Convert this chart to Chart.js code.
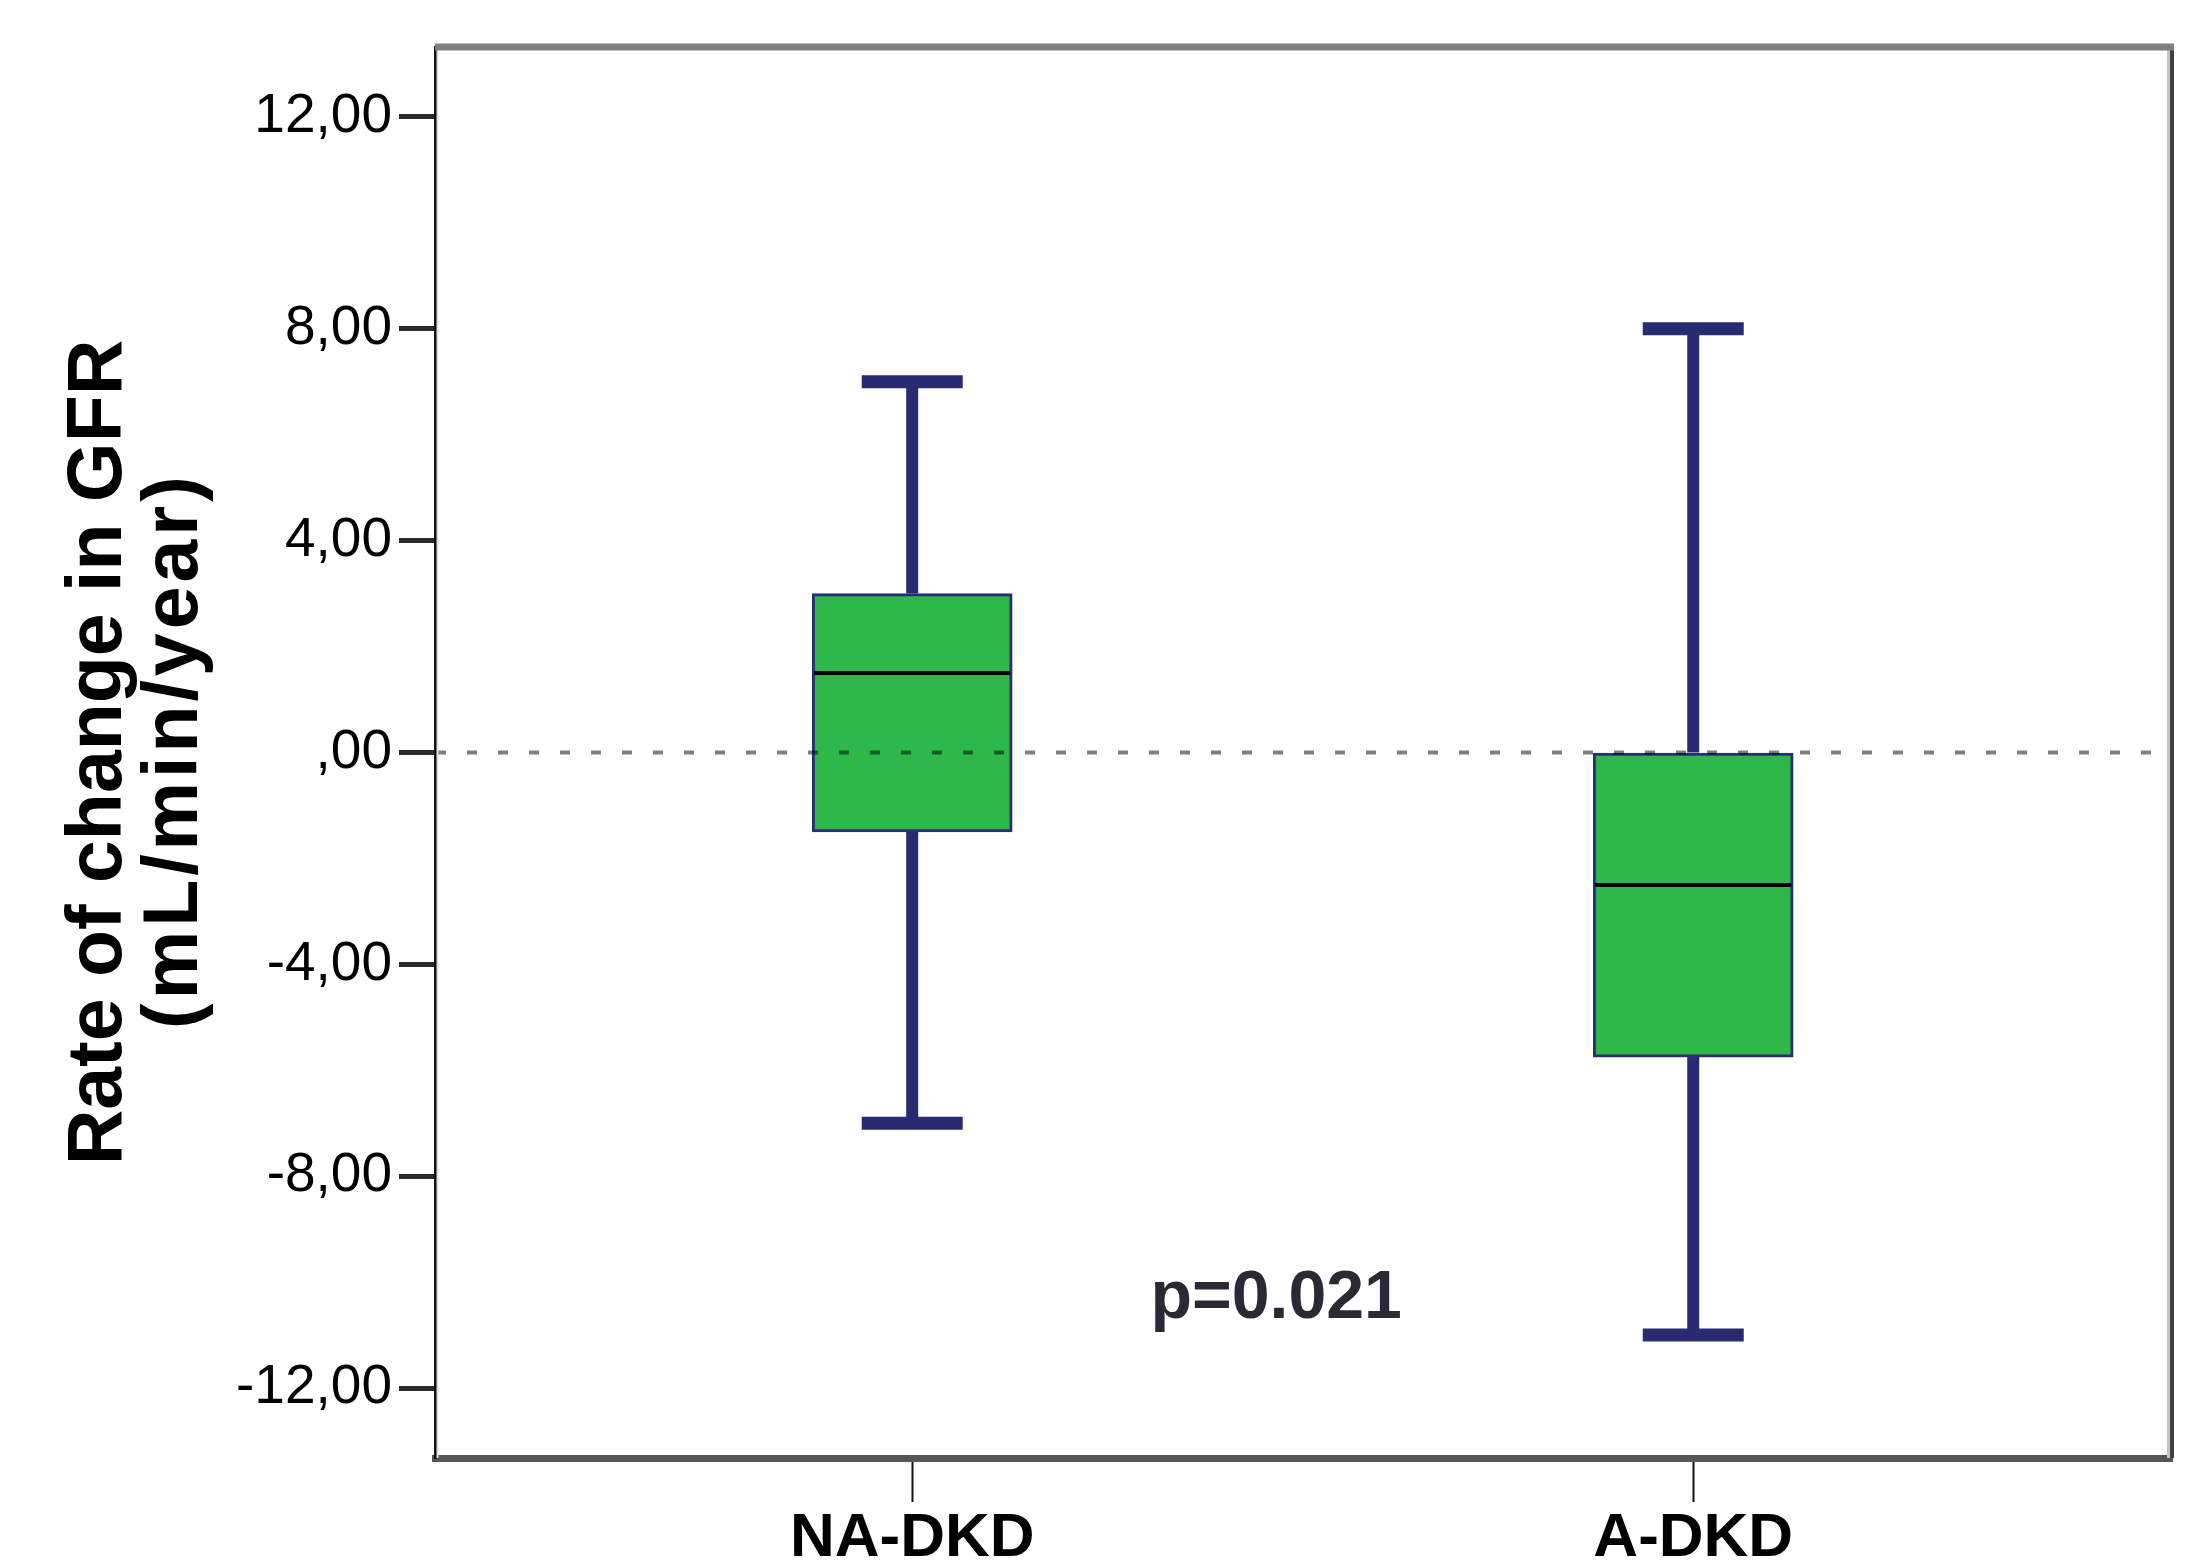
<!DOCTYPE html>
<html><head><meta charset="utf-8">
<script src="https://cdn.jsdelivr.net/npm/chart.js@4.4.1/dist/chart.umd.min.js"></script>
<style>html,body{margin:0;padding:0;background:#fff;overflow:hidden}#wrap{width:2191px;height:1562px;position:relative}canvas{display:block}</style>
</head><body><div id="wrap"><canvas id="c" width="2191" height="1562"></canvas></div>
<script>
// ---- data ----
const categories = ['NA-DKD', 'A-DKD'];
const whiskerMin = [-7, -11];
const q1 = [-1.5, -5.75];
const median = [1.5, -2.5];
const q3 = [3, 0];
const whiskerMax = [7, 8];
const yTickValues = [-12, -8, -4, 0, 4, 8, 12];
const yTickLabels = ['-12,00', '-8,00', '-4,00', ',00', '4,00', '8,00', '12,00'];
const yTitle = ['Rate of change in GFR', '(mL/min/year)'];
const pText = 'p=0.021';
const pPos = { x: 1.466, y: -10.68 };
const referenceValue = 0;

// ---- styles ----
const FONT = '"Liberation Sans", Arial, Helvetica, sans-serif';
const WHISKER = '#282a72';
const BOX_FILL = '#2eb84a';
const BOX_EDGE = '#2b2e75';

Chart.defaults.font.family = FONT;

const extras = {
  id: 'boxExtras',
  beforeDatasetsDraw(chart) {
    const { ctx, chartArea: a, scales: { x, y } } = chart;
    ctx.save();
    ctx.strokeStyle = WHISKER;
    ctx.lineCap = 'butt';
    categories.forEach((c, i) => {
      const px = x.getPixelForValue(i + 1);
      ctx.lineWidth = 12;
      ctx.beginPath();
      ctx.moveTo(px, y.getPixelForValue(whiskerMax[i]));
      ctx.lineTo(px, y.getPixelForValue(q3[i]));
      ctx.moveTo(px, y.getPixelForValue(q1[i]));
      ctx.lineTo(px, y.getPixelForValue(whiskerMin[i]));
      ctx.stroke();
      ctx.lineWidth = 13;
      [whiskerMax[i], whiskerMin[i]].forEach(v => {
        const py = y.getPixelForValue(v);
        ctx.beginPath();
        ctx.moveTo(px - 50.5, py);
        ctx.lineTo(px + 50.5, py);
        ctx.stroke();
      });
    });
    ctx.restore();
    // y-axis title (two lines, rotated)
    ctx.save();
    const cy = (a.top + a.bottom) / 2;
    ctx.fillStyle = '#000';
    ctx.font = 'bold 77px ' + FONT;
    ctx.textAlign = 'center';
    ctx.textBaseline = 'alphabetic';
    const baselines = [121, 197];
    const spacing = ['0px', '4px'];
    yTitle.forEach((t, i) => {
      ctx.save();
      ctx.letterSpacing = spacing[i];
      ctx.translate(baselines[i], cy);
      ctx.rotate(-Math.PI / 2);
      ctx.fillText(t, i === 1 ? 2 : 0, 0);
      ctx.restore();
    });
    ctx.restore();
  },
  afterDatasetsDraw(chart) {
    const { ctx, chartArea: a, scales: { x, y } } = chart;
    const meta = chart.getDatasetMeta(0);
    ctx.save();
    // medians
    ctx.strokeStyle = '#000';
    ctx.lineWidth = 4;
    meta.data.forEach((bar, i) => {
      const py = y.getPixelForValue(median[i]);
      ctx.beginPath();
      ctx.moveTo(bar.x - bar.width / 2 + 2, py);
      ctx.lineTo(bar.x + bar.width / 2 - 2, py);
      ctx.stroke();
    });
    // reference line
    const py0 = y.getPixelForValue(referenceValue);
    ctx.strokeStyle = 'rgba(0,0,0,0.5)';
    ctx.lineWidth = 4;
    ctx.setLineDash([10, 21]);
    ctx.beginPath();
    ctx.moveTo(a.left + 1, py0);
    ctx.lineTo(a.right, py0);
    ctx.stroke();
    ctx.setLineDash([]);
    // frame (top & right)
    ctx.strokeStyle = '#e0e0e0';
    ctx.lineWidth = 2;
    ctx.beginPath(); ctx.moveTo(a.left + 2.5, a.top); ctx.lineTo(a.left + 2.5, a.bottom); ctx.stroke();
    ctx.strokeStyle = '#c4c4c4';
    ctx.lineWidth = 3;
    ctx.beginPath(); ctx.moveTo(a.right - 3.5, a.top); ctx.lineTo(a.right - 3.5, a.bottom); ctx.stroke();
    ctx.strokeStyle = '#404040';
    ctx.lineWidth = 4;
    ctx.beginPath(); ctx.moveTo(a.right, a.top - 2); ctx.lineTo(a.right, a.bottom); ctx.stroke();
    ctx.strokeStyle = '#808080';
    ctx.lineWidth = 7;
    ctx.beginPath(); ctx.moveTo(a.left, a.top); ctx.lineTo(a.right + 2, a.top); ctx.stroke();
    // p-value annotation
    ctx.fillStyle = '#2a2a35';
    ctx.font = 'bold 68px ' + FONT;
    ctx.textAlign = 'center';
    ctx.textBaseline = 'alphabetic';
    ctx.fillText(pText, x.getPixelForValue(pPos.x), y.getPixelForValue(pPos.y));
    ctx.restore();
  }
};

new Chart(document.getElementById('c'), {
  type: 'bar',
  data: {
    datasets: [{
      data: categories.map((c, i) => ({ x: i + 1, y: [q1[i], q3[i]] })),
      backgroundColor: BOX_FILL,
      borderColor: BOX_EDGE,
      borderWidth: 3,
      borderSkipped: false,
      barThickness: 200
    }]
  },
  options: {
    responsive: false,
    devicePixelRatio: 1,
    animation: false,
    events: [],
    layout: { padding: { top: 47, right: 19, left: 0, bottom: 0 } },
    plugins: { legend: { display: false }, tooltip: { enabled: false }, title: { display: false } },
    scales: {
      x: {
        type: 'linear', min: 0.389, max: 2.613, offset: false,
        afterBuildTicks: s => { s.ticks = categories.map((c, i) => ({ value: i + 1 })); },
        afterFit: s => { s.height = 104; },
        ticks: { callback: (v, i) => categories[i], autoSkip: false, maxRotation: 0, font: { size: 62, weight: 'bold' }, color: '#000', padding: 0 },
        grid: { drawOnChartArea: false, offset: false, drawTicks: true, tickLength: 44, tickColor: '#111', tickWidth: 2 },
        border: { display: true, color: '#555', width: 7 }
      },
      y: {
        min: -13.32, max: 13.32,
        afterBuildTicks: s => { s.ticks = yTickValues.map(v => ({ value: v })); },
        afterFit: s => { s.width = 435; },
        ticks: { callback: (v, i) => yTickLabels[i], font: { size: 55 }, color: '#000', padding: 7 },
        grid: { drawOnChartArea: false, drawTicks: true, tickLength: 36, tickColor: '#2a2a2a', tickWidth: 5 },
        border: { display: true, color: '#111', width: 3 },
        title: { display: false }
      }
    }
  },
  plugins: [extras]
});
</script></body></html>
